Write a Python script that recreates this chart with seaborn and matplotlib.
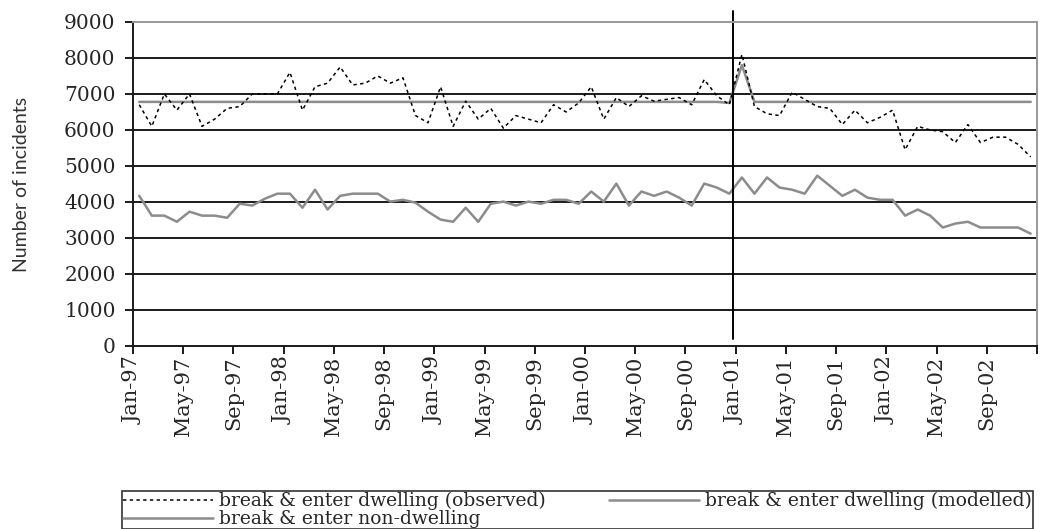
import numpy as np
import pandas as pd
import seaborn as sns
import matplotlib.pyplot as plt
from matplotlib.lines import Line2D

# monthly values, Jan-97 .. Dec-02 (72 months)
observed = [6700, 6100, 7000, 6550, 7000, 6100, 6300, 6600, 6650, 7000, 7000, 7000,
            7600, 6550, 7200, 7300, 7750, 7250, 7300, 7500, 7300, 7450, 6400, 6200,
            7200, 6100, 6800, 6300, 6600, 6050, 6400, 6300, 6200, 6700, 6500, 6750,
            7200, 6300, 6900, 6650, 6950, 6800, 6850, 6900, 6700, 7400, 6950, 6700,
            8100, 6650, 6450, 6400, 7050, 6850, 6650, 6600, 6150, 6550, 6200, 6350,
            6550, 5450, 6100, 6000, 5950, 5650, 6150, 5650, 5800, 5800, 5600, 5250]

modelled = [6780] * 47 + [6750, 7800] + [6780] * 23

non_dwelling = [4170, 3620, 3620, 3450, 3730, 3620, 3620, 3560, 3950, 3900, 4090, 4230,
                4230, 3840, 4340, 3790, 4170, 4230, 4230, 4230, 4010, 4060, 3980, 3730,
                3510, 3450, 3840, 3450, 3950, 4010, 3900, 4010, 3950, 4060, 4060, 3950,
                4290, 4010, 4510, 3900, 4290, 4170, 4290, 4120, 3900, 4510, 4400, 4230,
                4680, 4230, 4680, 4400, 4340, 4230, 4730, 4450, 4170, 4340, 4120, 4060,
                4060, 3620, 3790, 3620, 3290, 3400, 3450, 3290, 3290, 3290, 3290, 3120]

tick_labels = ["Jan-97", "May-97", "Sep-97", "Jan-98", "May-98", "Sep-98",
               "Jan-99", "May-99", "Sep-99", "Jan-00", "May-00", "Sep-00",
               "Jan-01", "May-01", "Sep-01", "Jan-02", "May-02", "Sep-02"]

month = np.arange(len(observed))
df = pd.DataFrame({"month": month, "observed": observed,
                   "modelled": modelled, "non_dwelling": non_dwelling})

sns.set_style("white")
plt.rcParams["font.family"] = ["DejaVu Serif"]

fig = plt.figure(figsize=(10.43, 5.29), dpi=100)
ax = fig.add_axes([0.1275, 0.346, 0.8667, 0.6125])

grey = "#8c8c8c"
sns.lineplot(data=df, x="month", y="non_dwelling", ax=ax, color=grey, lw=1.8)
sns.lineplot(data=df, x="month", y="modelled", ax=ax, color=grey, lw=1.8)
sns.lineplot(data=df, x="month", y="observed", ax=ax, color="black", lw=1.1,
             linestyle=(0, (2.2, 2.2)))

# intervention marker at Jan-01
ax.plot([47.3, 47.3], [200, 9300], color="black", lw=1.4, clip_on=False)

ax.set_xlim(-0.5, 71.5)
ax.set_ylim(0, 9000)
ax.set_yticks(range(0, 9001, 1000))
ax.set_yticklabels([str(v) for v in range(0, 9001, 1000)], fontsize=14.5)
for v in range(1000, 9000, 1000):
    ax.axhline(v, color="#1a1a1a", lw=1.4, zorder=0)

xt = [-0.5 + 4 * i for i in range(len(tick_labels))] + [71.5]
ax.set_xticks(xt)
ax.set_xticklabels(tick_labels + [""], rotation=90, fontsize=15)
ax.tick_params(axis="both", direction="out", length=6, width=1.4, color="#1a1a1a",
               left=True, bottom=True)
ax.tick_params(axis="y", pad=6.5)
ax.tick_params(axis="x", pad=1.5)

for s in ["left", "bottom"]:
    ax.spines[s].set_color("#1a1a1a")
    ax.spines[s].set_linewidth(1.4)
for s in ["top", "right"]:
    ax.spines[s].set_color("#999999")
    ax.spines[s].set_linewidth(1.4)

ax.set_xlabel("")
ax.set_ylabel("Number of incidents", fontsize=14, family=["Lato", "DejaVu Sans"],
              color="#333333")
ax.yaxis.set_label_coords(-0.114, 0.5)

handles = [Line2D([], [], color="black", lw=1.1, linestyle=(0, (2.2, 2.2))),
           Line2D([], [], color=grey, lw=1.8),
           Line2D([], [], color=grey, lw=1.8)]
labels = ["break & enter dwelling (observed)", "break & enter non-dwelling",
          "break & enter dwelling (modelled)"]
leg = fig.legend(handles, labels, ncol=2, loc="upper left",
                 bbox_to_anchor=(122 / 1043, 1 - 491 / 529),
                 fontsize=13.5, frameon=True, fancybox=False, edgecolor="black",
                 handlelength=4.8, handletextpad=0.3, columnspacing=3.4,
                 labelspacing=0.0, borderpad=0.05, borderaxespad=0)
leg.get_frame().set_linewidth(1.2)

fig.savefig("out.png", dpi=100)
